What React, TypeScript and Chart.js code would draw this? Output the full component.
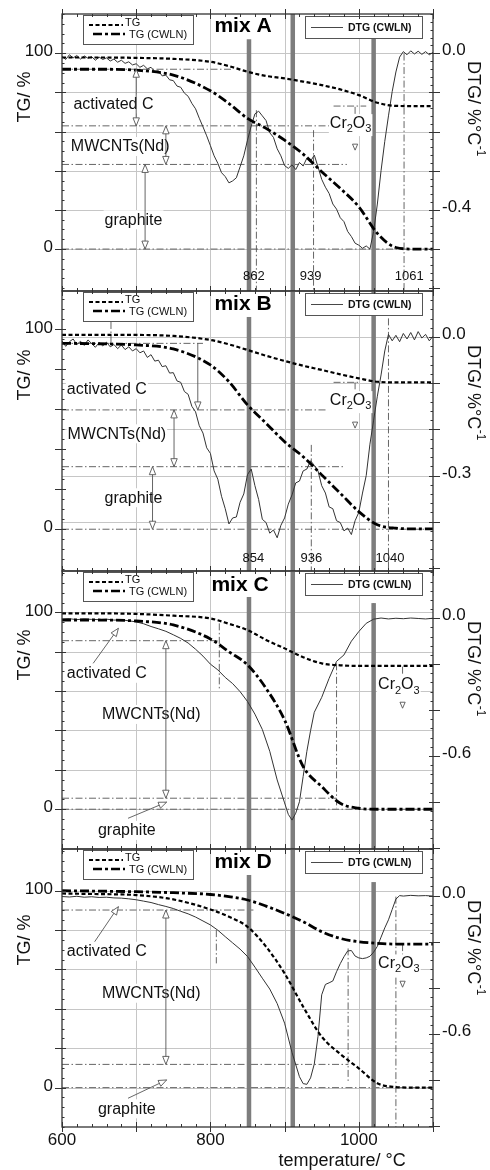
import React, { useEffect, useRef } from 'react';
import { Chart, registerables } from 'chart.js';

Chart.register(...registerables);

const FONT = '"Liberation Sans", Arial, Helvetica, sans-serif';
const W = 490;
const H = 1170;

// ---------------- data ----------------
const PANEL_NAMES = ['mix A', 'mix B', 'mix C', 'mix D'];
const SERIES_LABELS = ['TG', 'TG (CWLN)', 'DTG (CWLN)'];

const X_MIN = 600;
const X_MAX = 1100;
const X_GRID = [700, 800, 900, 1000];
const X_MAJOR = [600, 700, 800, 900, 1000, 1100];
const X_TICK_LABELS = [600, 800, 1000];
const BAND_TEMPS = [852, 911, 1020];

const TG_TICK_LABELS = [0, 100];
const TG_GRID = [0, 20, 40, 60, 80, 100];
const DTG_TICK_LABELS = [[0, -0.4], [0, -0.3], [0, -0.6], [0, -0.6]];
const DTG_MAJOR_STEP = [0.1, 0.1, 0.2, 0.2];
const DTG_GRID_B = [0, -0.1, -0.2, -0.3, -0.4];

const TG_TEMPS = [600, 650, 700, 750, 800, 825, 850, 875, 900, 925, 950, 975, 1000, 1025, 1050, 1075, 1100];

const A_TG = [97.8, 97.8, 97.6, 97.1, 95.6, 93.4, 90.5, 88.4, 87.1, 85.5, 83.7, 81.5, 78.6, 74.7, 73.1, 73.0, 73.0];
const A_TG_CWLN = [91.8, 91.8, 91.3, 88.8, 80.8, 74.3, 66.7, 61.6, 55.6, 48.5, 39.5, 31.0, 21.6, 8.0, 0.8, 0.0, 0.0];
const B_TG = [97.2, 97.2, 97.2, 96.7, 94.7, 92.5, 89.7, 86.8, 84.2, 81.8, 79.7, 77.5, 75.5, 73.8, 73.5, 73.5, 73.5];
const B_TG_CWLN = [93.0, 92.8, 92.2, 90.2, 82.2, 73.8, 62.2, 53.0, 43.8, 36.3, 27.2, 18.0, 8.8, 2.2, 0.5, 0.2, 0.2];
const C_TG = [99.5, 99.5, 99.2, 98.3, 96.9, 94.2, 91.0, 86.0, 81.7, 77.2, 74.1, 73.1, 72.8, 72.8, 72.8, 72.8, 72.8];
const C_TG_CWLN = [96.1, 96.1, 95.6, 93.6, 86.5, 80.0, 73.3, 61.4, 45.3, 21.7, 11.5, 3.0, 0.5, 0.0, 0.0, 0.0, 0.0];
const D_TG = [98.6, 98.3, 97.8, 95.6, 90.5, 86.8, 81.7, 71.6, 58.0, 41.1, 25.9, 17.1, 9.8, 2.2, 0.3, 0.0, 0.0];
const D_TG_CWLN = [100, 99.8, 99.5, 99.0, 98.1, 97.0, 95.3, 92.2, 88.5, 84.3, 79.2, 75.8, 74.1, 73.3, 72.9, 72.9, 72.9];

const FINE_TEMPS = [
  600, 605, 610, 615, 620, 625, 630, 635, 640, 645, 650, 655, 660, 665, 670, 675, 680, 685, 690, 695,
  700, 705, 710, 715, 720, 725, 730, 735, 740, 745, 750, 755, 760, 765, 770, 775, 780, 785, 790, 795,
  800, 805, 810, 815, 820, 825, 830, 835, 840, 845, 850, 855, 860, 865, 870, 875, 880, 885, 890, 895,
  900, 905, 910, 915, 920, 925, 930, 935, 940, 945, 950, 955, 960, 965, 970, 975, 980, 985, 990, 995,
  1000, 1005, 1010, 1015, 1020, 1025, 1030, 1035, 1040, 1045, 1050, 1055, 1060, 1065, 1070, 1075, 1080, 1085, 1090, 1095,
  1100,
];

const A_DTG = [
  -0.008, -0.016, -0.004, -0.012, -0.006, -0.015, -0.007, -0.013, -0.009, -0.018, -0.010, -0.016, -0.012, -0.020, -0.015, -0.023, -0.018, -0.026, -0.022, -0.030,
  -0.027, -0.036, -0.031, -0.040, -0.036, -0.047, -0.045, -0.058, -0.056, -0.068, -0.070, -0.084, -0.087, -0.102, -0.110, -0.128, -0.142, -0.166, -0.188, -0.211,
  -0.236, -0.262, -0.281, -0.305, -0.315, -0.331, -0.326, -0.318, -0.290, -0.262, -0.222, -0.186, -0.155, -0.148, -0.160, -0.172, -0.203, -0.215, -0.244, -0.262,
  -0.287, -0.294, -0.285, -0.297, -0.279, -0.288, -0.268, -0.276, -0.260, -0.290, -0.322, -0.342, -0.358, -0.385, -0.398, -0.420, -0.430, -0.455, -0.468, -0.485,
  -0.490, -0.498, -0.492, -0.500, -0.455, -0.385, -0.300, -0.225, -0.160, -0.098, -0.048, -0.010, 0.004, -0.004, 0.006, -0.002, 0.005, -0.003, 0.004, -0.004,
  0.002,
];

const B_DTG = [
  -0.008, -0.020, -0.010, -0.004, -0.016, -0.009, -0.018, -0.006, -0.014, -0.022, -0.012, -0.019, -0.011, -0.021, -0.016, -0.025, -0.017, -0.027, -0.021, -0.030,
  -0.025, -0.034, -0.030, -0.044, -0.038, -0.052, -0.050, -0.064, -0.062, -0.078, -0.077, -0.095, -0.098, -0.118, -0.124, -0.150, -0.162, -0.192, -0.208, -0.240,
  -0.252, -0.290, -0.308, -0.345, -0.372, -0.405, -0.392, -0.390, -0.358, -0.340, -0.298, -0.286, -0.322, -0.352, -0.395, -0.402, -0.425, -0.418, -0.435, -0.408,
  -0.392, -0.362, -0.342, -0.316, -0.312, -0.290, -0.286, -0.268, -0.278, -0.290, -0.322, -0.338, -0.368, -0.372, -0.398, -0.402, -0.420, -0.414, -0.428, -0.398,
  -0.380, -0.338, -0.300, -0.232, -0.180, -0.128, -0.082, -0.030, 0.006, -0.008, 0.004, -0.010, 0.008, -0.004, 0.010, -0.006, 0.012, -0.002, 0.006, -0.008,
  0.002,
];

const C_DTG_TEMPS = [
  600, 610, 620, 630, 640, 650, 660, 670, 680, 690, 700, 710, 720, 730, 740, 750, 760, 770, 780, 790,
  800, 810, 820, 830, 840, 850, 860, 870, 880, 890, 900, 905, 910, 915, 920, 925, 930, 935, 940,
  950, 960, 970, 980, 990, 1000, 1010, 1020, 1030, 1040, 1050, 1060, 1070, 1080, 1090, 1100,
];
const C_DTG = [
  -0.004, -0.002, -0.006, -0.003, -0.005, -0.006, -0.004, -0.008, -0.007, -0.011, -0.016, -0.024, -0.036, -0.046, -0.057, -0.072, -0.088, -0.108, -0.135, -0.165,
  -0.200, -0.225, -0.258, -0.285, -0.320, -0.363, -0.418, -0.485, -0.580, -0.705, -0.805, -0.855, -0.880, -0.850, -0.800, -0.690, -0.580, -0.490, -0.410,
  -0.345, -0.262, -0.188, -0.160, -0.100, -0.058, -0.022, -0.004, 0.001, -0.003, 0.000, -0.002, 0.001, -0.001, -0.003, 0.000,
];

const D_DTG_TEMPS = [
  600, 610, 620, 630, 640, 650, 660, 670, 680, 690, 700, 710, 720, 730, 740, 750, 760, 770, 780, 790,
  800, 810, 820, 830, 840, 850, 860, 870, 880, 890, 900, 910, 920, 925, 930, 935, 940, 945, 950, 955,
  960, 965, 970, 975, 980, 985, 990, 995, 1000, 1005, 1010, 1015, 1020, 1025, 1030, 1035, 1040, 1045, 1050, 1055,
  1060, 1070, 1080, 1090, 1100,
];
const D_DTG = [
  -0.004, -0.006, -0.003, -0.007, -0.005, -0.008, -0.007, -0.010, -0.011, -0.014, -0.018, -0.024, -0.030, -0.039, -0.047, -0.056, -0.068, -0.079, -0.093, -0.110,
  -0.127, -0.150, -0.178, -0.205, -0.232, -0.264, -0.310, -0.358, -0.405, -0.468, -0.553, -0.680, -0.785, -0.815, -0.818, -0.790, -0.730, -0.610, -0.430, -0.385,
  -0.378, -0.370, -0.330, -0.295, -0.265, -0.240, -0.238, -0.262, -0.270, -0.273, -0.270, -0.263, -0.245, -0.220, -0.180, -0.140, -0.105, -0.060, -0.015, 0.000,
  -0.002, 0.001, -0.001, 0.000, -0.002,
];

const TG_SERIES = [A_TG, B_TG, C_TG, D_TG];
const TG_CWLN_SERIES = [A_TG_CWLN, B_TG_CWLN, C_TG_CWLN, D_TG_CWLN];
const DTG_TEMPS = [FINE_TEMPS, FINE_TEMPS, C_DTG_TEMPS, D_DTG_TEMPS];
const DTG_SERIES = [A_DTG, B_DTG, C_DTG, D_DTG];

// ---------------- layout / annotation config ----------------
const PLOT_LEFT = 62;
const PLOT_RIGHT = 433;
const PANEL_TOPS = [14, 291, 571, 849];
const PANEL_BOTTOMS = [291, 571, 849, 1127];
const TG_RANGES = [[-21.4, 120], [-20.9, 119.2], [-20.2, 121], [-20, 121.2]];
const DTG_RANGES = [[-0.607, 0.1], [-0.507, 0.1], [-1.006, 0.206], [-1.003, 0.202]];
const BAND_TOPS = [[107.1, 130, 108.2], [106.2, 130, 130], [107.8, 130, 104.7], [108, 130, 104.4]];
const TITLE_X = [243, 243, 240, 243];
const TITLE_DY = [12, 13.3, 14, 13.7];
const LEFT_TITLE_DY = [83, 84, 84, 91];
const RIGHT_TITLE_DY = [94.5, 101.5, 97.5, 98.5];

// [tg, t0, t1]
const HLINES = [
  [[91.8, 600, 830], [62.9, 600, 966], [43.2, 600, 984], [0, 600, 1100], [73, 966, 1010]],
  [[93, 600, 790], [59.7, 600, 958], [31.3, 600, 980], [0, 600, 1100], [73.5, 966, 1000]],
  [[85.6, 600, 812], [5.6, 600, 970], [0, 600, 1100]],
  [[90.2, 600, 858], [11.8, 600, 986], [0, 600, 1100]],
];
// [t, tg0, tg1]
const VLINES = [
  [[862, 70.9, -30], [939, 60.7, -30], [1061, 99.8, -30], [995, 72.6, 68]],
  [[854, 30.5, -30], [936, 42.2, -30], [1040, 105.5, -30], [666, 103.7, 93], [995, 73.5, 67]],
  [[812, 94.4, 60.6], [970, 74.1, 0.5], [1020, 104.6, -30], [1059, 72.4, 67.3]],
  [[808, 80, 63.1], [985.6, 70.7, 2.2], [1050, 97, -30], [1059, 72.9, 67.5]],
];
// [t0, tg0, t1, tg1, heads]
const ARROWS = [
  [[700, 91.8, 700, 62.9, 2], [740, 62.9, 740, 43.2, 2], [712, 43.2, 712, 0, 2]],
  [[783, 93, 783, 59.7, 1], [751, 59.7, 751, 31.3, 2], [722, 31.3, 722, 0, 2]],
  [[642, 74.1, 676, 91.9, 1], [740, 85.6, 740, 5.6, 2], [689, -4.6, 741, 3.6, 1]],
  [[644, 74.1, 676, 91.9, 1], [740, 90.2, 740, 11.8, 2], [689, -5.4, 741, 3.9, 1]],
];
// Cr2O3 small arrow tip [t, tg]
const CR_TIPS = [[995, 50.5], [995, 50.6], [1059, 51.3], [1059, 51]];
// [text, t, tg]
const TEXTS = [
  [['activated C', 669.4, 74.3], ['MWCNTs(Nd)', 678.4, 52.6], ['graphite', 696.4, 15.2], ['Cr2O3', 989, 64.3]],
  [['activated C', 660.4, 70.2], ['MWCNTs(Nd)', 673.9, 48], ['graphite', 696.4, 16], ['Cr2O3', 989, 64.6]],
  [['activated C', 660.4, 69.3], ['MWCNTs(Nd)', 720.3, 48.4], ['graphite', 687.4, -10.5], ['Cr2O3', 1054, 63.1]],
  [['activated C', 660.4, 69.5], ['MWCNTs(Nd)', 720.3, 48.2], ['graphite', 687.4, -10.5], ['Cr2O3', 1054, 63.1]],
];
// [text, t, tg]
const NUMBER_LABELS = [
  [['862', 858.5, -13.8], ['939', 935, -13.8], ['1061', 1068, -13.8]],
  [['854', 858, -14.4], ['936', 936, -14.4], ['1040', 1042, -14.4]],
  [],
  [],
];

const GRID_COLOR = '#c6c6c6';
const REF_COLOR = '#555555';
const BAND_COLOR = '#7d7d7d';
const AXIS_COLOR = '#333333';
const TEXT_COLOR = '#111111';

// ---------------- drawing helpers ----------------
function seg(ctx: CanvasRenderingContext2D, x0: number, y0: number, x1: number, y1: number) {
  ctx.beginPath();
  ctx.moveTo(x0, y0);
  ctx.lineTo(x1, y1);
  ctx.stroke();
}

function head(ctx: CanvasRenderingContext2D, xt: number, yt: number, xf: number, yf: number, L = 8, hw = 3.2) {
  const dx = xt - xf;
  const dy = yt - yf;
  const d = Math.hypot(dx, dy) || 1;
  const ux = dx / d;
  const uy = dy / d;
  const bx = xt - ux * L;
  const by = yt - uy * L;
  ctx.beginPath();
  ctx.moveTo(xt, yt);
  ctx.lineTo(bx - uy * hw, by + ux * hw);
  ctx.lineTo(bx + uy * hw, by - ux * hw);
  ctx.closePath();
  ctx.fillStyle = '#fff';
  ctx.fill();
  ctx.stroke();
}

function drawCr2O3(ctx: CanvasRenderingContext2D, cx: number, cy: number) {
  const big = `16px ${FONT}`;
  const small = `11px ${FONT}`;
  const parts: [string, string, number][] = [['Cr', big, 0], ['2', small, 6], ['O', big, 0], ['3', small, 6]];
  let total = 0;
  const widths = parts.map(([s, f]) => {
    ctx.font = f;
    const w = ctx.measureText(s).width;
    total += w;
    return w;
  });
  let x = cx - total / 2;
  ctx.fillStyle = '#fff';
  ctx.fillRect(x - 1, cy - 9, total + 2, 22);
  ctx.fillStyle = TEXT_COLOR;
  ctx.textAlign = 'left';
  ctx.textBaseline = 'middle';
  parts.forEach(([s, f, dy], k) => {
    ctx.font = f;
    ctx.fillText(s, x, cy + dy);
    x += widths[k];
  });
}

function makePlugin(i: number) {
  return {
    id: 'decor' + i,
    beforeDatasetsDraw(chart: any) {
      const { ctx, chartArea: a, scales } = chart;
      const sx = scales.x;
      const sy = scales.y;
      const sy2 = scales.y2;
      ctx.save();
      ctx.beginPath();
      ctx.rect(a.left, a.top, a.right - a.left, a.bottom - a.top);
      ctx.clip();
      // grid
      ctx.strokeStyle = GRID_COLOR;
      ctx.lineWidth = 1;
      X_GRID.forEach((t) => {
        const x = Math.round(sx.getPixelForValue(t)) + 0.5;
        seg(ctx, x, a.top, x, a.bottom);
      });
      if (i === 1) {
        DTG_GRID_B.forEach((v) => {
          const y = Math.round(sy2.getPixelForValue(v)) + 0.5;
          seg(ctx, a.left, y, a.right, y);
        });
      } else {
        TG_GRID.forEach((v) => {
          const y = Math.round(sy.getPixelForValue(v)) + 0.5;
          seg(ctx, a.left, y, a.right, y);
        });
      }
      // reference dash-dot lines
      ctx.strokeStyle = REF_COLOR;
      ctx.lineWidth = 0.9;
      ctx.setLineDash([7, 2.5, 1.5, 2.5]);
      HLINES[i].forEach(([g, t0, t1]) => {
        const y = sy.getPixelForValue(g);
        seg(ctx, sx.getPixelForValue(t0), y, sx.getPixelForValue(t1), y);
      });
      VLINES[i].forEach(([t, g0, g1]) => {
        const x = sx.getPixelForValue(t);
        seg(ctx, x, sy.getPixelForValue(g0), x, sy.getPixelForValue(g1));
      });
      ctx.setLineDash([]);
      // bands
      ctx.fillStyle = BAND_COLOR;
      BAND_TEMPS.forEach((t, k) => {
        const x = sx.getPixelForValue(t);
        const yTop = Math.max(a.top, sy.getPixelForValue(BAND_TOPS[i][k]));
        ctx.fillRect(x - 2.25, yTop, 4.5, a.bottom - yTop);
      });
      ctx.restore();
    },
    afterDatasetsDraw(chart: any) {
      const { ctx, chartArea: a, scales } = chart;
      const sx = scales.x;
      const sy = scales.y;
      const sy2 = scales.y2;
      const top = a.top;
      const labels = chart.data.datasets.map((d: any) => d.label);
      ctx.save();

      // annotation texts
      TEXTS[i].forEach(([s, t, g]) => {
        const cx = sx.getPixelForValue(t as number);
        const cy = sy.getPixelForValue(g as number);
        if (s === 'Cr2O3') {
          drawCr2O3(ctx, cx, cy);
          return;
        }
        ctx.font = `16px ${FONT}`;
        const w = ctx.measureText(s as string).width;
        ctx.fillStyle = '#fff';
        ctx.fillRect(cx - w / 2 - 1, cy - 9, w + 2, 19);
        ctx.fillStyle = TEXT_COLOR;
        ctx.textAlign = 'center';
        ctx.textBaseline = 'middle';
        ctx.fillText(s as string, cx, cy + 1);
      });

      // arrows
      ctx.strokeStyle = REF_COLOR;
      ctx.lineWidth = 0.9;
      ARROWS[i].forEach(([t0, g0, t1, g1, h]) => {
        const x0 = sx.getPixelForValue(t0);
        const y0 = sy.getPixelForValue(g0);
        const x1 = sx.getPixelForValue(t1);
        const y1 = sy.getPixelForValue(g1);
        seg(ctx, x0, y0, x1, y1);
        if (h >= 1) head(ctx, x1, y1, x0, y0);
        if (h >= 2) head(ctx, x0, y0, x1, y1);
      });
      {
        const [t, g] = CR_TIPS[i];
        const x = sx.getPixelForValue(t);
        const y = sy.getPixelForValue(g);
        head(ctx, x, y, x, y - 10, 6, 2.6);
      }

      // number labels
      ctx.fillStyle = TEXT_COLOR;
      ctx.font = `13px ${FONT}`;
      ctx.textAlign = 'center';
      ctx.textBaseline = 'middle';
      NUMBER_LABELS[i].forEach(([s, t, g]) => {
        ctx.fillText(s as string, sx.getPixelForValue(t as number), sy.getPixelForValue(g as number));
      });

      // panel title
      ctx.font = `bold 21px ${FONT}`;
      ctx.fillStyle = '#000';
      ctx.fillText(PANEL_NAMES[i], TITLE_X[i], top + TITLE_DY[i]);

      // left legend box
      ctx.fillStyle = '#fff';
      ctx.fillRect(83, top + 1, 110, 29);
      ctx.strokeStyle = '#555';
      ctx.lineWidth = 1;
      ctx.strokeRect(83.5, top + 1.5, 110, 29);
      ctx.strokeStyle = '#000';
      ctx.lineWidth = 2;
      ctx.setLineDash([4, 2.5]);
      seg(ctx, 89, top + 11, 123, top + 11);
      ctx.lineWidth = 2.4;
      ctx.setLineDash([9, 3, 3, 3]);
      seg(ctx, 93, top + 20, 125, top + 20);
      ctx.setLineDash([]);
      ctx.fillStyle = TEXT_COLOR;
      ctx.textAlign = 'left';
      ctx.font = `11px ${FONT}`;
      ctx.fillText(labels[0], 125, top + 9);
      ctx.fillText(labels[1], 129, top + 21);

      // right legend box
      ctx.fillStyle = '#fff';
      ctx.fillRect(305, top + 2.5, 117, 22);
      ctx.strokeStyle = '#555';
      ctx.lineWidth = 1;
      ctx.strokeRect(305.5, top + 2.5, 117, 22);
      ctx.strokeStyle = '#333';
      ctx.lineWidth = 0.9;
      seg(ctx, 311, top + 13.5, 343, top + 13.5);
      ctx.fillStyle = TEXT_COLOR;
      ctx.font = `bold 10.5px ${FONT}`;
      ctx.fillText(labels[2], 348, top + 14);

      // frame
      ctx.strokeStyle = AXIS_COLOR;
      ctx.lineWidth = 1.3;
      ctx.strokeRect(a.left, a.top, a.right - a.left, a.bottom - a.top);

      // x ticks (top and bottom)
      ctx.lineWidth = 1;
      for (let t = X_MIN; t <= X_MAX; t += 20) {
        const x = Math.round(sx.getPixelForValue(t)) + 0.5;
        const major = X_MAJOR.includes(t);
        const inL = major ? 5 : 3;
        const outL = major ? 5 : 0;
        seg(ctx, x, a.top - outL, x, a.top + inL);
        seg(ctx, x, a.bottom - inL, x, a.bottom + outL);
      }
      // left TG ticks
      const [gMin, gMax] = TG_RANGES[i];
      for (let v = -20; v <= 120; v += 5) {
        if (v < gMin || v > gMax) continue;
        const y = Math.round(sy.getPixelForValue(v)) + 0.5;
        const major = v % 20 === 0 && v >= 0 && v <= 100;
        seg(ctx, a.left - (major ? 7 : 0), y, a.left + (major ? 4 : 2.5), y);
      }
      // right DTG ticks
      const [dMin, dMax] = DTG_RANGES[i];
      const step = DTG_MAJOR_STEP[i];
      const minor = step / 5;
      for (let k = Math.ceil(dMin / minor); k <= Math.floor(dMax / minor); k++) {
        const v = k * minor;
        const y = Math.round(sy2.getPixelForValue(v)) + 0.5;
        const major = k % 5 === 0 && v <= 1e-9;
        seg(ctx, a.right - (major ? 4 : 2.5), y, a.right + (major ? 7 : 0), y);
      }

      // tick labels
      ctx.fillStyle = TEXT_COLOR;
      ctx.font = `17px ${FONT}`;
      ctx.textBaseline = 'middle';
      ctx.textAlign = 'right';
      TG_TICK_LABELS.forEach((v) => {
        ctx.fillText(String(v), a.left - 9, sy.getPixelForValue(v) - 1.5);
      });
      ctx.textAlign = 'left';
      DTG_TICK_LABELS[i].forEach((v) => {
        const s = v === 0 ? '0.0' : v.toFixed(1);
        ctx.fillText(s, a.right + 9, sy2.getPixelForValue(v) - 2.5);
      });

      // axis titles
      ctx.font = `18px ${FONT}`;
      ctx.save();
      ctx.translate(25.5, top + LEFT_TITLE_DY[i]);
      ctx.rotate(-Math.PI / 2);
      ctx.textAlign = 'center';
      ctx.fillText('TG/ %', 0, 0);
      ctx.restore();

      ctx.save();
      ctx.translate(473, top + RIGHT_TITLE_DY[i]);
      ctx.rotate(Math.PI / 2);
      ctx.font = `18px ${FONT}`;
      const mainT = 'DTG/ %°C';
      const w1 = ctx.measureText(mainT).width;
      ctx.font = `12px ${FONT}`;
      const supT = '-1';
      const w2 = ctx.measureText(supT).width;
      const x0 = -(w1 + w2) / 2;
      ctx.textAlign = 'left';
      ctx.font = `18px ${FONT}`;
      ctx.fillText(mainT, x0, 0);
      ctx.font = `12px ${FONT}`;
      ctx.fillText(supT, x0 + w1 + 0.5, -7);
      ctx.restore();

      if (i === 3) {
        ctx.font = `17px ${FONT}`;
        ctx.textAlign = 'center';
        ctx.textBaseline = 'middle';
        X_TICK_LABELS.forEach((t) => {
          ctx.fillText(String(t), sx.getPixelForValue(t), a.bottom + 13);
        });
        ctx.font = `18px ${FONT}`;
        ctx.fillText('temperature/ °C', 342, a.bottom + 34);
      }
      ctx.restore();
    },
  };
}

function buildConfig(i: number): any {
  const tgData = TG_TEMPS.map((t, k) => ({ x: t, y: TG_SERIES[i][k] }));
  const cwlnData = TG_TEMPS.map((t, k) => ({ x: t, y: TG_CWLN_SERIES[i][k] }));
  const dtgData = DTG_TEMPS[i].map((t, k) => ({ x: t, y: DTG_SERIES[i][k] }));
  return {
    type: 'line',
    data: {
      datasets: [
        {
          label: SERIES_LABELS[0],
          data: tgData,
          yAxisID: 'y',
          borderColor: '#000',
          borderWidth: 2.2,
          borderDash: [4, 2.5],
          pointRadius: 0,
          fill: false,
          cubicInterpolationMode: 'monotone',
        },
        {
          label: SERIES_LABELS[1],
          data: cwlnData,
          yAxisID: 'y',
          borderColor: '#000',
          borderWidth: 2.8,
          borderDash: [9, 3, 3, 3],
          pointRadius: 0,
          fill: false,
          cubicInterpolationMode: 'monotone',
        },
        {
          label: SERIES_LABELS[2],
          data: dtgData,
          yAxisID: 'y2',
          borderColor: '#333',
          borderWidth: 1,
          pointRadius: 0,
          fill: false,
          tension: 0,
        },
      ],
    },
    options: {
      responsive: false,
      animation: false,
      devicePixelRatio: 1,
      events: [],
      layout: {
        padding: {
          left: PLOT_LEFT,
          right: W - PLOT_RIGHT,
          top: PANEL_TOPS[i],
          bottom: H - PANEL_BOTTOMS[i],
        },
      },
      plugins: { legend: { display: false }, tooltip: { enabled: false }, title: { display: false } },
      scales: {
        x: { type: 'linear', min: X_MIN, max: X_MAX, display: false },
        y: { type: 'linear', min: TG_RANGES[i][0], max: TG_RANGES[i][1], display: false },
        y2: { type: 'linear', position: 'right', min: DTG_RANGES[i][0], max: DTG_RANGES[i][1], display: false },
      },
    },
    plugins: [makePlugin(i)],
  };
}

function Panel({ idx }: { idx: number }) {
  const ref = useRef<HTMLCanvasElement>(null);
  useEffect(() => {
    if (!ref.current) return;
    const chart = new Chart(ref.current, buildConfig(idx));
    return () => chart.destroy();
  }, [idx]);
  return (
    <canvas
      ref={ref}
      width={W}
      height={H}
      style={{ position: 'absolute', left: 0, top: 0, width: W, height: H }}
    />
  );
}

export default function App() {
  return (
    <div style={{ position: 'absolute', left: 0, top: 0, width: W, height: H, background: '#fff', overflow: 'hidden' }}>
      {[0, 1, 2, 3].map((i) => (
        <Panel key={i} idx={i} />
      ))}
    </div>
  );
}
